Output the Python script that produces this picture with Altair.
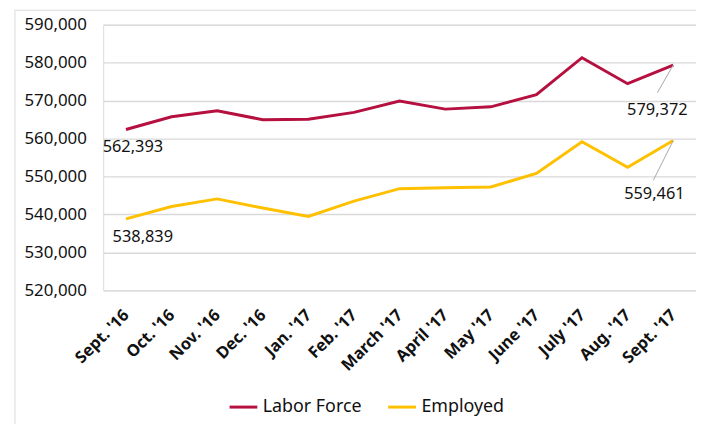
import altair as alt
import pandas as pd

months = ["Sept. '16", "Oct. '16", "Nov. '16", "Dec. '16", "Jan. '17", "Feb. '17",
          "March '17", "April '17", "May '17", "June '17", "July '17", "Aug. '17", "Sept. '17"]
labor_force = [562393, 565750, 567300, 564970, 565100, 566900, 569900,
               567750, 568350, 571550, 581300, 574450, 579372]
employed = [538839, 542100, 544100, 541700, 539500, 543500, 546800,
            547050, 547240, 550800, 559150, 552450, 559461]
series = ["Labor Force", "Employed"]
colors = ["#B5103F", "#FFC000"]
y_ticks = [520000, 530000, 540000, 550000, 560000, 570000, 580000, 590000]

rows = []
for m, v in zip(months, labor_force):
    rows.append({"month": m, "value": v, "series": "Labor Force"})
for m, v in zip(months, employed):
    rows.append({"month": m, "value": v, "series": "Employed"})
df = pd.DataFrame(rows)

FONT = "Noto Sans"
W, H = 598, 268

x = alt.X("month:N", sort=months, scale=alt.Scale(type="point", padding=0.5),
          axis=alt.Axis(title=None, labelAngle=-45, labelAlign="right", labelBaseline="middle",
                        labelFontSize=16.5, labelFontWeight="bold", labelColor="#111",
                        labelPadding=22, ticks=False, domain=False, grid=False, labelFont=FONT))
y = alt.Y("value:Q", scale=alt.Scale(domain=[520000, 590000], nice=False, zero=False),
          axis=alt.Axis(title=None, values=y_ticks, format=",.0f", labelFontSize=17,
                        labelColor="#111", labelPadding=17, ticks=False, domain=False,
                        gridColor="#d9d9d9", gridWidth=1.4, labelFont=FONT))

base = alt.Chart(df)

lines = base.mark_line(strokeWidth=3).encode(
    x=x, y=y,
    color=alt.Color("series:N", scale=alt.Scale(domain=series, range=colors),
                    legend=alt.Legend(title=None, orient="none", direction="horizontal",
                                      legendX=126, legendY=370, symbolType="stroke",
                                      symbolSize=784, symbolStrokeWidth=3,
                                      labelFontSize=18, labelFont=FONT, labelColor="#111",
                                      labelOffset=4, columnPadding=20, padding=0)),
)

def label(series_name, month, dx, dy):
    return base.transform_filter(
        (alt.datum.series == series_name) & (alt.datum.month == month)
    ).mark_text(dx=dx, dy=dy, fontSize=16.5, font=FONT, color="#111").encode(
        x=x, y=y, text=alt.Text("value:Q", format=",")
    )

def leader(series_name, month, ox, oy):
    return base.transform_filter(
        (alt.datum.series == series_name) & (alt.datum.month == month)
    ).mark_rule(color="#a6a6a6", strokeWidth=1, x2Offset=ox, y2Offset=oy).encode(
        x=x, y=y, x2="month:N", y2="value:Q"
    )

frame_data = alt.Data(values=[{}])
left_frame = alt.Chart(frame_data).mark_rule(color="#d9d9d9", strokeWidth=1).encode(
    x=alt.value(-89), y=alt.value(-15), y2=alt.value(H + 135))
top_frame = alt.Chart(frame_data).mark_rule(color="#d9d9d9", strokeWidth=1).encode(
    x=alt.value(-89), x2=alt.value(W + 10), y=alt.value(-14.5))

chart = alt.layer(
    left_frame, top_frame, lines,
    leader("Labor Force", "Sept. '17", -16, 28),
    leader("Employed", "Sept. '17", -20, 40),
    label("Labor Force", "Sept. '16", 7, 17.5),
    label("Employed", "Sept. '16", 17, 18.5),
    label("Labor Force", "Sept. '17", -16, 45),
    label("Employed", "Sept. '17", -19, 53.5),
).properties(
    width=W, height=H,
    autosize=alt.AutoSizeParams(type="none"),
    padding={"left": 96, "top": 15, "right": 0, "bottom": 135},
).configure_view(stroke=None).configure(background="white")

chart.save("out.html", embed_options={"renderer": "svg", "actions": False})
